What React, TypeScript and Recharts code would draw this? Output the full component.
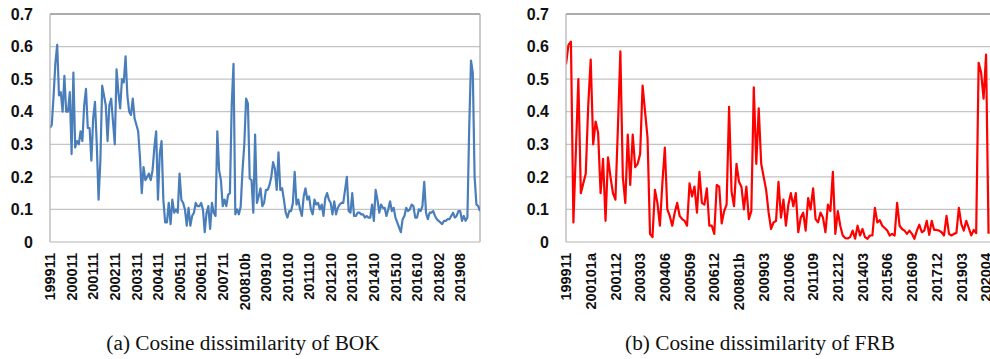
import React from 'react';
import { LineChart, Line, XAxis, YAxis, CartesianGrid, ReferenceLine } from 'recharts';

// ---- data ----
const BOK_TICK_LABELS = [
  '199911', '200011', '200111', '200211', '200311', '200411', '200511', '200611', '200711', '200810b',
  '200910', '201010', '201110', '201210', '201310', '201410', '201510', '201610', '201802', '201908',
];
const FRB_TICK_LABELS = [
  '199911', '200101a', '200112', '200303', '200406', '200509', '200612', '200801b', '200903',
  '201006', '201109', '201212', '201403', '201506', '201609', '201712', '201903', '202004',
];
const Y_TICKS = [0, 0.1, 0.2, 0.3, 0.4, 0.5, 0.6, 0.7];

const BOK_VALUES = [
  0.35, 0.36, 0.45, 0.55, 0.605, 0.45, 0.46, 0.40, 0.51, 0.40,
  0.40, 0.46, 0.27, 0.52, 0.29, 0.31, 0.30, 0.34, 0.31, 0.42,
  0.47, 0.35, 0.35, 0.25, 0.38, 0.43, 0.30, 0.13, 0.25, 0.48,
  0.45, 0.42, 0.31, 0.42, 0.44, 0.37, 0.30, 0.53, 0.46, 0.41,
  0.50, 0.49, 0.57, 0.45, 0.40, 0.39, 0.44, 0.38, 0.36, 0.34,
  0.26, 0.15, 0.23, 0.19, 0.20, 0.21, 0.19, 0.22, 0.29, 0.34,
  0.13, 0.27, 0.31, 0.13, 0.06, 0.06, 0.12, 0.055, 0.13, 0.09,
  0.10, 0.09, 0.21, 0.13, 0.12, 0.10, 0.05, 0.105, 0.05, 0.08,
  0.09, 0.12, 0.11, 0.11, 0.12, 0.10, 0.03, 0.09, 0.11, 0.04,
  0.12, 0.09, 0.08, 0.34, 0.22, 0.19, 0.11, 0.13, 0.11, 0.145,
  0.15, 0.42, 0.547, 0.085, 0.10, 0.085, 0.11, 0.22, 0.30, 0.44,
  0.425, 0.195, 0.19, 0.09, 0.33, 0.12, 0.14, 0.165, 0.11, 0.12,
  0.16, 0.16, 0.175, 0.20, 0.245, 0.225, 0.16, 0.275, 0.16, 0.165,
  0.13, 0.09, 0.075, 0.095, 0.095, 0.12, 0.215, 0.115, 0.13, 0.10,
  0.08, 0.14, 0.165, 0.13, 0.14, 0.10, 0.085, 0.13, 0.115, 0.12,
  0.10, 0.115, 0.08, 0.135, 0.15, 0.13, 0.12, 0.085, 0.125, 0.085,
  0.105, 0.115, 0.12, 0.12, 0.16, 0.20, 0.095, 0.09, 0.15, 0.08,
  0.08, 0.09, 0.09, 0.085, 0.085, 0.075, 0.08, 0.075, 0.075, 0.115,
  0.065, 0.16, 0.13, 0.09, 0.115, 0.105, 0.105, 0.08, 0.10, 0.125,
  0.095, 0.105, 0.075, 0.06, 0.045, 0.03, 0.07, 0.08, 0.105, 0.095,
  0.10, 0.115, 0.11, 0.075, 0.075, 0.10, 0.095, 0.11, 0.185, 0.09,
  0.07, 0.09, 0.09, 0.095, 0.08, 0.07, 0.065, 0.06, 0.055, 0.065,
  0.065, 0.07, 0.07, 0.08, 0.09, 0.075, 0.08, 0.095, 0.095, 0.065,
  0.08, 0.065, 0.075, 0.35, 0.557, 0.52, 0.20, 0.115, 0.11, 0.095,
];

const FRB_VALUES = [
  0.545, 0.605, 0.615, 0.06, 0.28, 0.50, 0.15, 0.18, 0.21, 0.42,
  0.56, 0.30, 0.37, 0.335, 0.15, 0.255, 0.065, 0.26, 0.20, 0.15,
  0.13, 0.35, 0.585, 0.20, 0.12, 0.33, 0.175, 0.33, 0.23, 0.24,
  0.27, 0.48, 0.40, 0.32, 0.025, 0.015, 0.16, 0.12, 0.05, 0.18,
  0.29, 0.10, 0.08, 0.05, 0.09, 0.12, 0.08, 0.07, 0.065, 0.05,
  0.18, 0.14, 0.17, 0.09, 0.215, 0.12, 0.115, 0.165, 0.05, 0.05,
  0.025, 0.175, 0.17, 0.057, 0.095, 0.115, 0.415, 0.155, 0.11, 0.24,
  0.185, 0.17, 0.10, 0.17, 0.07, 0.095, 0.475, 0.24, 0.41, 0.24,
  0.20, 0.16, 0.09, 0.04, 0.06, 0.065, 0.185, 0.075, 0.13, 0.05,
  0.115, 0.15, 0.11, 0.15, 0.03, 0.075, 0.09, 0.035, 0.135, 0.10,
  0.165, 0.07, 0.06, 0.09, 0.075, 0.03, 0.115, 0.095, 0.215, 0.025,
  0.095, 0.05, 0.02, 0.012, 0.011, 0.015, 0.035, 0.01, 0.05, 0.02,
  0.04, 0.015, 0.01, 0.02, 0.02, 0.105, 0.06, 0.067, 0.05, 0.043,
  0.035, 0.02, 0.025, 0.02, 0.12, 0.05, 0.04, 0.035, 0.025, 0.035,
  0.025, 0.01, 0.035, 0.053, 0.03, 0.035, 0.065, 0.022, 0.065, 0.037,
  0.037, 0.035, 0.03, 0.02, 0.08, 0.025, 0.02, 0.025, 0.028, 0.105,
  0.055, 0.035, 0.065, 0.043, 0.02, 0.037, 0.027, 0.55, 0.52, 0.44,
  0.575, 0.025,
];

const BOK_TICK_STEP = 12;
const FRB_TICK_STEP = 10;

const bokData = BOK_VALUES.map((v, i) => ({ i, v }));
const frbData = FRB_VALUES.map((v, i) => ({ i, v }));
const bokTicks = BOK_TICK_LABELS.map((_, k) => k * BOK_TICK_STEP);
const frbTicks = FRB_TICK_LABELS.map((_, k) => k * FRB_TICK_STEP);

const AXIS_FONT = '"Liberation Sans", Arial, sans-serif';

const RotTick = (props: any) => {
  const { x, y, payload, labels, step } = props;
  const label = labels[Math.round(payload.value / step)];
  return (
    <text
      x={x}
      y={y}
      transform={`rotate(-90, ${x}, ${y})`}
      textAnchor="end"
      dy="0.36em"
      fontFamily={AXIS_FONT}
      fontSize={14.5}
      fontWeight="bold"
      fill="#111"
    >
      {label}
    </text>
  );
};

const yTickStyle = { fontFamily: AXIS_FONT, fontSize: 16, fontWeight: 'bold', fill: '#111' } as any;
const fmtY = (v: number) => (v === 0 ? '0' : v.toFixed(1));

const Panel = (props: any) => {
  const { data, ticks, labels, step, color, width, yWidth, marginRight, xMax, showRight } = props;
  return (
    <LineChart
      width={width}
      height={320}
      data={data}
      margin={{ top: 14, right: marginRight, left: 0, bottom: 0 }}
    >
      <CartesianGrid horizontal vertical={false} stroke="#c4c4c4" strokeWidth={1.2} />
      <XAxis
        dataKey="i"
        type="number"
        domain={[0, xMax]}
        ticks={ticks}
        interval={0}
        height={78}
        tickSize={0}
        tickMargin={11}
        tickLine={false}
        axisLine={{ stroke: '#d4d4d4', strokeWidth: 1.2 }}
        tick={<RotTick labels={labels} step={step} />}
        allowDataOverflow
      />
      <YAxis
        domain={[0, 0.7]}
        ticks={Y_TICKS}
        interval={0}
        width={yWidth}
        tickSize={0}
        tickMargin={17}
        tickLine={false}
        axisLine={{ stroke: '#b0b0b0', strokeWidth: 1.2 }}
        tick={yTickStyle}
        tickFormatter={fmtY}
      />
      <ReferenceLine y={0.7} stroke="#9a9a9a" strokeWidth={1.3} />
      {showRight ? <ReferenceLine x={xMax} stroke="#a8a8a8" strokeWidth={1.2} /> : null}
      <Line
        dataKey="v"
        type="linear"
        stroke={color}
        strokeWidth={2.2}
        dot={false}
        isAnimationActive={false}
        strokeLinejoin="round"
      />
    </LineChart>
  );
};

const captionStyle: React.CSSProperties = {
  position: 'absolute',
  width: 400,
  textAlign: 'center',
  fontFamily: '"Liberation Serif", "Times New Roman", serif',
  fontSize: 21.3,
  lineHeight: '24px',
  color: '#111',
  whiteSpace: 'nowrap',
};

export default function App() {
  return (
    <div
      style={{
        position: 'absolute',
        left: 0,
        top: 0,
        width: 990,
        height: 359,
        overflow: 'hidden',
        background: '#fff',
      }}
    >
      <div style={{ position: 'absolute', left: 0, top: 0 }}>
        <Panel
          data={bokData}
          ticks={bokTicks}
          labels={BOK_TICK_LABELS}
          step={BOK_TICK_STEP}
          color="#4a7ebb"
          width={490}
          yWidth={50}
          marginRight={10}
          xMax={BOK_VALUES.length - 1}
          showRight
        />
      </div>
      <div style={{ position: 'absolute', left: 500, top: 0 }}>
        <Panel
          data={frbData}
          ticks={frbTicks}
          labels={FRB_TICK_LABELS}
          step={FRB_TICK_STEP}
          color="#ff0000"
          width={500}
          yWidth={66}
          marginRight={9}
          xMax={FRB_VALUES.length}
          showRight={false}
        />
      </div>
      <div style={{ ...captionStyle, left: 243 - 200, top: 331 }}>(a) Cosine dissimilarity of BOK</div>
      <div style={{ ...captionStyle, left: 760 - 200, top: 331 }}>(b) Cosine dissimilarity of FRB</div>
    </div>
  );
}
